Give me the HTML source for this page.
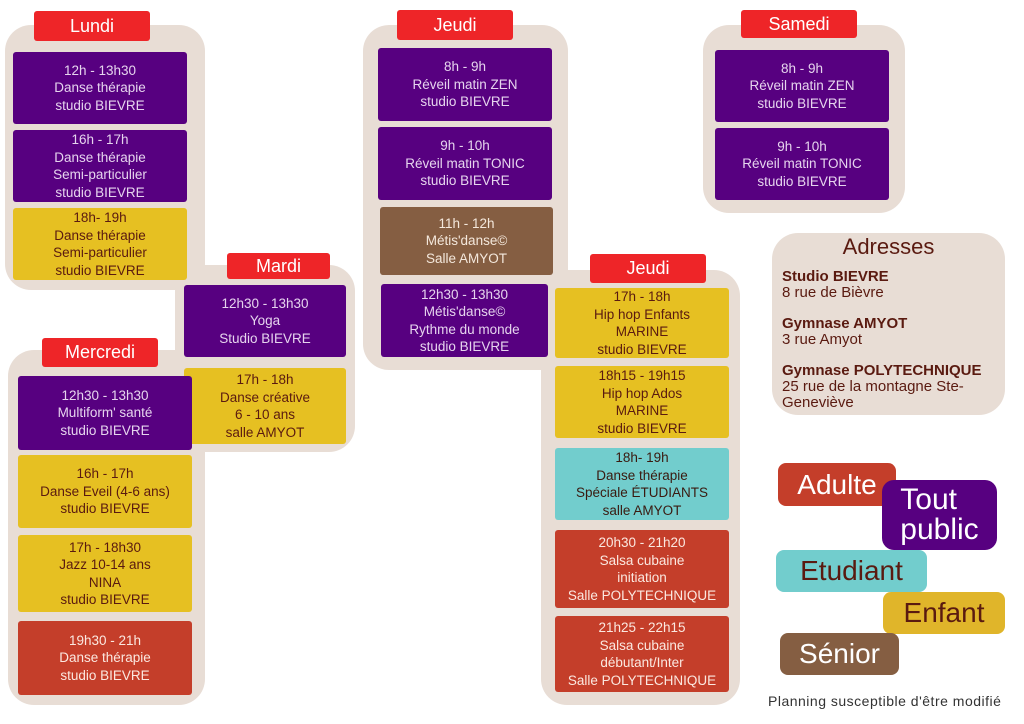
<!DOCTYPE html>
<html><head><meta charset="utf-8"><style>
body{margin:0;width:1024px;height:724px;background:#fff;position:relative;overflow:hidden;font-family:"Liberation Sans",sans-serif}
.p{position:absolute;background:#e8ddd5;border-radius:26px}
.l{position:absolute;background:#ee2528;color:#fff;border-radius:3px;font-size:18px;display:flex;align-items:center;justify-content:center}
.c{position:absolute;border-radius:3px;font-size:13.5px;line-height:17.5px;text-align:center;display:flex;flex-direction:column;justify-content:center}
.pu{background:#570080;color:#e6d4ee}
.ye{background:#e6c022;color:#5a1a10}
.re{background:#c43e2a;color:#fbe8e0}
.te{background:#72cdcd;color:#3a1a10}
.br{background:#855e42;color:#f4e8dc}
.g{position:absolute;border-radius:8px;font-size:28px;display:flex;align-items:center;justify-content:center;line-height:30px}
</style></head><body>
<div class="p" style="left:5px;top:25px;width:200px;height:265px"></div>
<div class="p" style="left:175px;top:265px;width:180px;height:187px"></div>
<div class="p" style="left:8px;top:350px;width:197px;height:355px"></div>
<div class="p" style="left:363px;top:25px;width:205px;height:345px"></div>
<div class="p" style="left:541px;top:270px;width:199px;height:435px"></div>
<div class="p" style="left:703px;top:25px;width:202px;height:188px"></div>
<div class="p" style="left:772px;top:233px;width:233px;height:182px"></div>

<div class="l" style="left:34px;top:11px;width:116px;height:30px">Lundi</div>
<div class="l" style="left:227px;top:253px;width:103px;height:26px">Mardi</div>
<div class="l" style="left:42px;top:338px;width:116px;height:29px">Mercredi</div>
<div class="l" style="left:397px;top:10px;width:116px;height:30px">Jeudi</div>
<div class="l" style="left:590px;top:254px;width:116px;height:29px">Jeudi</div>
<div class="l" style="left:741px;top:10px;width:116px;height:28px">Samedi</div>

<div class="c pu" style="left:13px;top:52px;width:174px;height:72px">12h - 13h30<br>Danse thérapie<br>studio BIEVRE</div>
<div class="c pu" style="left:13px;top:130px;width:174px;height:72px">16h - 17h<br>Danse thérapie<br>Semi-particulier<br>studio BIEVRE</div>
<div class="c ye" style="left:13px;top:208px;width:174px;height:72px">18h- 19h<br>Danse thérapie<br>Semi-particulier<br>studio BIEVRE</div>

<div class="c pu" style="left:184px;top:285px;width:162px;height:72px">12h30 - 13h30<br>Yoga<br>Studio BIEVRE</div>
<div class="c ye" style="left:184px;top:368px;width:162px;height:76px">17h - 18h<br>Danse créative<br>6 - 10 ans<br>salle AMYOT</div>

<div class="c pu" style="left:18px;top:376px;width:174px;height:74px">12h30 - 13h30<br>Multiform' santé<br>studio BIEVRE</div>
<div class="c ye" style="left:18px;top:455px;width:174px;height:73px">16h - 17h<br>Danse Eveil (4-6 ans)<br>studio BIEVRE</div>
<div class="c ye" style="left:18px;top:535px;width:174px;height:77px">17h - 18h30<br>Jazz 10-14 ans<br>NINA<br>studio BIEVRE</div>
<div class="c re" style="left:18px;top:621px;width:174px;height:74px">19h30 - 21h<br>Danse thérapie<br>studio BIEVRE</div>

<div class="c pu" style="left:378px;top:48px;width:174px;height:73px">8h - 9h<br>Réveil matin ZEN<br>studio BIEVRE</div>
<div class="c pu" style="left:378px;top:127px;width:174px;height:73px">9h - 10h<br>Réveil matin TONIC<br>studio BIEVRE</div>
<div class="c br" style="left:380px;top:207px;width:173px;height:68px">11h - 12h<br>Métis'danse©<br>Salle AMYOT</div>
<div class="c pu" style="left:381px;top:284px;width:167px;height:73px">12h30 - 13h30<br>Métis'danse©<br>Rythme du monde<br>studio BIEVRE</div>

<div class="c ye" style="left:555px;top:288px;width:174px;height:70px">17h - 18h<br>Hip hop Enfants<br>MARINE<br>studio BIEVRE</div>
<div class="c ye" style="left:555px;top:366px;width:174px;height:72px">18h15 - 19h15<br>Hip hop Ados<br>MARINE<br>studio BIEVRE</div>
<div class="c te" style="left:555px;top:448px;width:174px;height:72px">18h- 19h<br>Danse thérapie<br>Spéciale ÉTUDIANTS<br>salle AMYOT</div>
<div class="c re" style="left:555px;top:530px;width:174px;height:78px">20h30 - 21h20<br>Salsa cubaine<br>initiation<br>Salle POLYTECHNIQUE</div>
<div class="c re" style="left:555px;top:616px;width:174px;height:76px">21h25 - 22h15<br>Salsa cubaine<br>débutant/Inter<br>Salle POLYTECHNIQUE</div>

<div class="c pu" style="left:715px;top:50px;width:174px;height:72px">8h - 9h<br>Réveil matin ZEN<br>studio BIEVRE</div>
<div class="c pu" style="left:715px;top:128px;width:174px;height:72px">9h - 10h<br>Réveil matin TONIC<br>studio BIEVRE</div>

<div style="position:absolute;left:772px;top:234px;width:233px;text-align:center;font-size:22px;color:#5a1a10">Adresses</div>
<div style="position:absolute;left:782px;top:269px;font-size:15px;line-height:16px;color:#5a1a10">
<b>Studio BIEVRE</b><br>8 rue de Bièvre<br><div style="height:15px"></div><b>Gymnase AMYOT</b><br>3 rue Amyot<br><div style="height:15px"></div><b>Gymnase POLYTECHNIQUE</b><br>25 rue de la montagne Ste-<br>Geneviève</div>

<div class="g" style="left:778px;top:463px;width:118px;height:43px;background:#c43e2a;color:#fff">Adulte</div>
<div class="g" style="left:882px;top:480px;width:115px;height:70px;background:#570080;color:#fff;border-radius:12px;font-size:30px">Tout<br>public</div>
<div class="g" style="left:776px;top:550px;width:151px;height:42px;background:#72cdcd;color:#5a1a10">Etudiant</div>
<div class="g" style="left:883px;top:592px;width:122px;height:42px;background:#e0b52a;color:#5a1a10">Enfant</div>
<div class="g" style="left:780px;top:633px;width:119px;height:42px;background:#855e42;color:#fff">Sénior</div>
<div style="position:absolute;left:768px;top:693px;font-size:14px;letter-spacing:0.5px;color:#333">Planning susceptible d'être modifié</div>
</body></html>
